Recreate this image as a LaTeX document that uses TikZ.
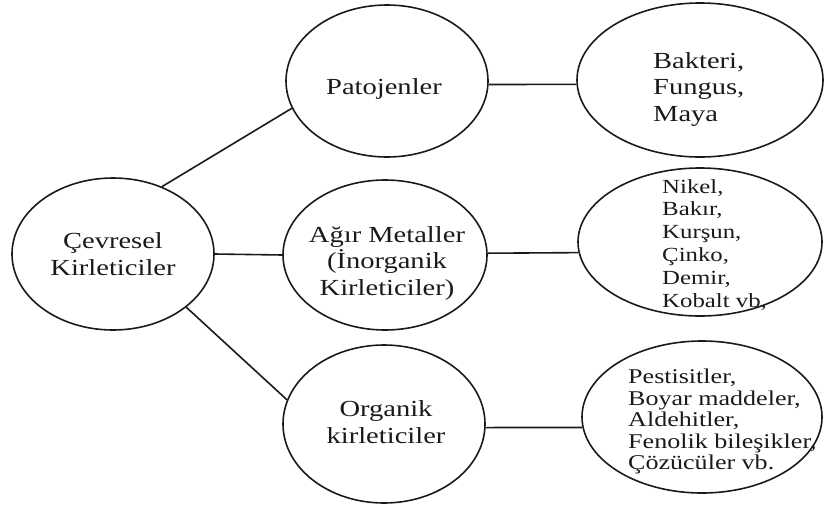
\documentclass[tikz,border=0pt]{standalone}
\usepackage{fontspec}
\setmainfont{Liberation Serif}[FakeStretch=1.24]
\usetikzlibrary{shapes.geometric}
\definecolor{ink}{HTML}{1A1A1A}
\tikzset{
  ell/.style={draw=ink, ellipse, line width=1.6pt, inner sep=0pt},
  conn/.style={draw=ink, line width=1.6pt},
  bigtxt/.style={text=ink, font=\fontsize{23}{26.5}\selectfont, align=center, inner sep=0pt},
  smalltxt/.style={text=ink, font=\fontsize{20}{22.8}\selectfont, align=left, inner sep=0pt, anchor=north west},
  pesttxt/.style={text=ink, font=\fontsize{21}{21.5}\selectfont, align=left, inner sep=0pt, anchor=north west},
}
\begin{document}
\begin{tikzpicture}[x=1pt,y=-1pt]
\useasboundingbox (0,0) rectangle (826,506);
% ellipses
\node[ell, minimum width=202pt, minimum height=152pt] (cev) at (113,254) {};
\node[ell, minimum width=202pt, minimum height=152pt] (pat) at (387,81) {};
\node[ell, minimum width=204pt, minimum height=150pt] (ag) at (385,255) {};
\node[ell, minimum width=202pt, minimum height=158pt] (org) at (384,424) {};
\node[ell, minimum width=246pt, minimum height=154pt] (bak) at (700,80) {};
\node[ell, minimum width=244pt, minimum height=148pt] (nik) at (700,242) {};
\node[ell, minimum width=240pt, minimum height=152pt] (pest) at (702,417) {};
% texts
\node[bigtxt] (cevt) at (113,254) {Çevresel\\Kirleticiler};
\node[bigtxt, anchor=base] (patt) at (384,94) {Patojenler};
\node[bigtxt] (agt) at (387,263) {Ağır Metaller\\(İnorganik\\Kirleticiler)};
\node[bigtxt] (orgt) at (386,422) {Organik\\kirleticiler};
\node[bigtxt, align=left, anchor=north west] (bakt) at (653,52) {Bakteri,\\Fungus,\\Maya};
\node[smalltxt] (nikt) at (662,179) {Nikel,\\Bakır,\\Kurşun,\\Çinko,\\Demir,\\Kobalt vb,};
\node[pesttxt] (pestt) at (628,369) {Pestisitler,\\Boyar maddeler,\\Aldehitler,\\Fenolik bileşikler,\\Çözücüler vb.};
% connectors
\draw[conn] (cev.54) -- (pat.196);
\draw[conn] (cev.east) -- (ag.west);
\draw[conn] (cev.-36) -- (org.166);
\draw[conn] (pat.-2) -- (bak.182);
\draw[conn] (ag.1) -- (nik.185);
\draw[conn] (org.-2) -- (pest.185);
\end{tikzpicture}
\end{document}
